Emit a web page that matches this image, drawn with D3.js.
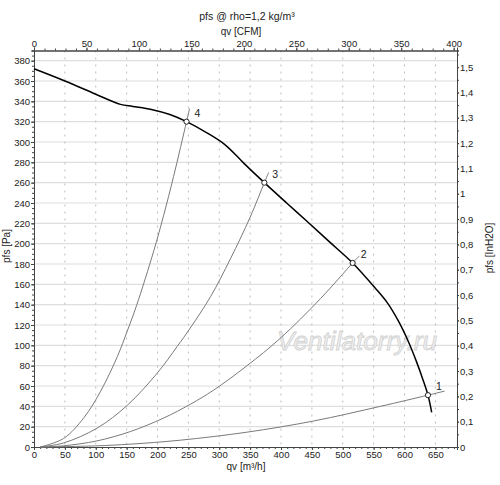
<!DOCTYPE html>
<html>
<head>
<meta charset="utf-8">
<script src="https://cdn.jsdelivr.net/npm/d3@7"></script>
<style>
  body { margin: 0; background: #fff; }
  text { font-family: "Liberation Sans", Arial, sans-serif; font-size: 10px; fill: #222; }
</style>
</head>
<body>
<script>
// Ventilatorkennlinie (qv in m³/h, pfs in Pa)
const fanQv  = [0, 50, 100, 140, 160, 190, 220, 247, 280, 310, 340, 373, 410, 442, 479, 516, 553, 572, 590, 606, 620, 630, 638, 644];
const fanPfs = [372, 360, 347, 337, 335, 332, 327, 320, 309, 297, 279, 260, 239.5, 222, 201.5, 181, 156, 142, 124, 104, 83, 66, 51, 34];

// Anlagenkennlinien 1..4
const sys1Qv  = [10, 100, 156, 237, 345, 453, 561, 638, 665];
const sys1Pfs = [0, 1.1, 2.8, 6.7, 14.6, 25.6, 40, 51, 55];
const sys2Qv  = [10, 48, 102, 156, 210, 253, 291, 345, 399, 464, 516, 527];
const sys2Pfs = [0, 1.2, 6, 15.2, 28.5, 42, 56, 80, 107, 146, 181, 188];
const sys3Qv  = [10, 48, 102, 151, 200, 232, 253, 286, 318, 350, 373, 380];
const sys3Pfs = [0, 4, 18.5, 41, 73, 99, 117, 148, 185, 226, 260, 270];
const sys4Qv  = [10, 48, 81, 108, 135, 151, 166, 194, 210, 226, 247, 252];
const sys4Pfs = [0, 8.4, 29, 55, 89, 114, 139, 193, 228, 266, 320, 333];

// Betriebspunkte
const pointNames = ["1", "2", "3", "4"];
const pointQv    = [638, 516, 373, 247];
const pointPfs   = [51, 181, 260, 320];

// Achsenbeschriftungen
const qvTicks  = [0, 50, 100, 150, 200, 250, 300, 350, 400, 450, 500, 550, 600, 650];
const cfmTicks = [0, 50, 100, 150, 200, 250, 300, 350, 400];
const paTicks  = [0, 20, 40, 60, 80, 100, 120, 140, 160, 180, 200, 220, 240, 260, 280, 300, 320, 340, 360, 380];
const inTicks  = [0, 0.1, 0.2, 0.3, 0.4, 0.5, 0.6, 0.7, 0.8, 0.9, 1, 1.1, 1.2, 1.3, 1.4, 1.5];

const width = 500;
const height = 485;
const plotLeft = 34, plotRight = 457, plotTop = 50.5, plotBottom = 447;
const qvMax = 685, pfsMax = 390;

const svg = d3.select("body")
  .append("svg")
  .attr("width", width)
  .attr("height", height);

const x      = d3.scaleLinear().domain([0, qvMax]).range([plotLeft, plotRight]);
const xTop   = d3.scaleLinear().domain([0, qvMax / 1.699]).range([plotLeft, plotRight]);
const y      = d3.scaleLinear().domain([0, pfsMax]).range([plotBottom, plotTop]);
const yRight = d3.scaleLinear().domain([0, pfsMax / 249.089]).range([plotBottom, plotTop]);

const comma = d => String(d).replace(".", ",");

// Gitter
svg.append("g")
  .selectAll("line")
  .data(paTicks.slice(1))
  .enter()
  .append("line")
  .attr("x1", plotLeft).attr("x2", plotRight)
  .attr("y1", d => y(d)).attr("y2", d => y(d))
  .attr("stroke", "#dedede")
  .attr("stroke-width", 1.2);

svg.append("g")
  .selectAll("line")
  .data(qvTicks.slice(1))
  .enter()
  .append("line")
  .attr("x1", d => x(d)).attr("x2", d => x(d))
  .attr("y1", plotTop).attr("y2", plotBottom)
  .attr("stroke", "#bdbdbd")
  .attr("stroke-dasharray", "2,5")
  .attr("stroke-width", 1);

// Wasserzeichen
svg.append("text")
  .attr("x", 357)
  .attr("y", 350)
  .attr("text-anchor", "middle")
  .attr("textLength", 160)
  .attr("lengthAdjust", "spacingAndGlyphs")
  .style("font-size", "25px")
  .style("font-style", "italic")
  .style("fill", "#f0f0f0")
  .style("stroke", "#d2d2d2")
  .style("stroke-width", 0.8)
  .text("Ventilatorry.ru");

// Achsen
function styleAxis(g) {
  g.select(".domain").attr("stroke", "#444");
  g.selectAll(".tick line").attr("stroke", "#444");
  g.selectAll(".tick text").style("fill", "#222").style("font-size", "9.5px");
}

const minor = (ax, vals) => ax.tickValues(vals).tickSize(2).tickFormat("");

svg.append("g").attr("transform", `translate(0,${plotBottom})`)
  .call(minor(d3.axisBottom(x), d3.range(0, 681, 10))).call(styleAxis);
svg.append("g").attr("transform", `translate(0,${plotBottom})`)
  .call(d3.axisBottom(x).tickValues(qvTicks).tickSize(3).tickPadding(1)).call(styleAxis);

svg.append("g").attr("transform", `translate(0,${plotTop})`)
  .call(minor(d3.axisTop(xTop), d3.range(0, 401, 10))).call(styleAxis);
svg.append("g").attr("transform", `translate(0,${plotTop})`)
  .call(d3.axisTop(xTop).tickValues(cfmTicks).tickSize(3).tickPadding(1)).call(styleAxis);

svg.append("g").attr("transform", `translate(${plotLeft},0)`)
  .call(minor(d3.axisLeft(y), d3.range(0, 391, 5))).call(styleAxis);
svg.append("g").attr("transform", `translate(${plotLeft},0)`)
  .call(d3.axisLeft(y).tickValues(paTicks).tickSize(3).tickPadding(1)).call(styleAxis);

svg.append("g").attr("transform", `translate(${plotRight},0)`)
  .call(minor(d3.axisRight(yRight), d3.range(0, 1.56, 0.05))).call(styleAxis);
svg.append("g").attr("transform", `translate(${plotRight},0)`)
  .call(d3.axisRight(yRight).tickValues(inTicks).tickSize(2).tickPadding(1).tickFormat(comma)).call(styleAxis);

// Achsentitel
svg.append("text").attr("x", 247).attr("y", 20).attr("text-anchor", "middle").style("font-size", "10.5px").text("pfs @ rho=1,2 kg/m³");
svg.append("text").attr("x", 241).attr("y", 35).attr("text-anchor", "middle").text("qv [CFM]");
svg.append("text").attr("x", 246).attr("y", 470).attr("text-anchor", "middle").text("qv [m³/h]");
svg.append("text").attr("transform", "translate(10,246) rotate(-90)").attr("text-anchor", "middle").text("pfs [Pa]");
svg.append("text").attr("transform", "translate(493,248) rotate(-90)").attr("text-anchor", "middle").text("pfs [InH2O]");

// Kurven
const line = d3.line()
  .x(d => x(d[0]))
  .y(d => y(d[1]))
  .curve(d3.curveCatmullRom.alpha(0.5));

const zip = (a, b) => a.map((v, i) => [v, b[i]]);

const systems = [
  zip(sys1Qv, sys1Pfs),
  zip(sys2Qv, sys2Pfs),
  zip(sys3Qv, sys3Pfs),
  zip(sys4Qv, sys4Pfs)
];

svg.selectAll("path.sys")
  .data(systems)
  .enter()
  .append("path")
  .attr("class", "sys")
  .attr("d", line)
  .attr("fill", "none")
  .attr("stroke", "#7a7a7a")
  .attr("stroke-width", 1);

svg.append("path")
  .datum(zip(fanQv, fanPfs))
  .attr("d", line)
  .attr("fill", "none")
  .attr("stroke", "#000")
  .attr("stroke-width", 1.5);

// Betriebspunkte
const points = pointNames.map((n, i) => ({ name: n, qv: pointQv[i], pfs: pointPfs[i] }));

svg.selectAll("circle")
  .data(points)
  .enter()
  .append("circle")
  .attr("cx", d => x(d.qv))
  .attr("cy", d => y(d.pfs))
  .attr("r", 2.6)
  .attr("fill", "#fff")
  .attr("stroke", "#222")
  .attr("stroke-width", 1);

svg.selectAll("text.pt")
  .data(points)
  .enter()
  .append("text")
  .attr("class", "pt")
  .attr("x", d => x(d.qv) + 8)
  .attr("y", d => y(d.pfs) - 5)
  .style("font-size", "10.5px")
  .text(d => d.name);
</script>
</body>
</html>
